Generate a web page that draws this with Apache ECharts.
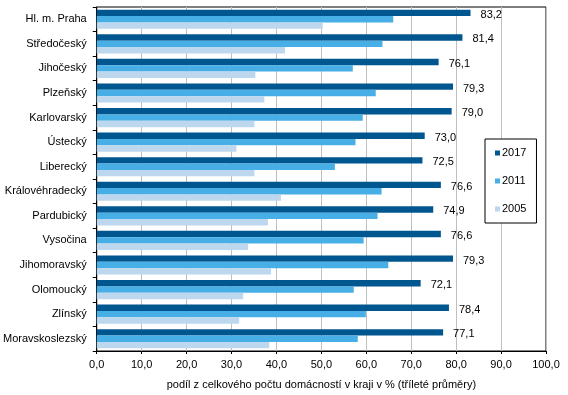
<!DOCTYPE html>
<html><head><meta charset="utf-8">
<script src="https://cdn.jsdelivr.net/npm/echarts@6/dist/echarts.min.js"></script>
<style>html,body{margin:0;padding:0;background:#fff}#c{width:568px;height:395px}</style>
</head><body><div id="c"></div>
<script>
const categories = ["Hl. m. Praha","Středočeský","Jihočeský","Plzeňský","Karlovarský","Ústecký","Liberecký","Královéhradecký","Pardubický","Vysočina","Jihomoravský","Olomoucký","Zlínský","Moravskoslezský"];
const v2017 = [83.2,81.4,76.1,79.3,79.0,73.0,72.5,76.6,74.9,76.6,79.3,72.1,78.4,77.1];
const v2011 = [66.0,63.6,57.0,62.1,59.2,57.6,53.0,63.4,62.5,59.4,64.9,57.2,59.9,58.1];
const v2005 = [50.3,41.9,35.3,37.3,35.1,31.1,35.1,41.0,38.1,33.7,38.8,32.6,31.7,38.4];
const seriesNames = ["2017","2011","2005"];
const xTitle = "podíl z celkového počtu domácností v kraji v % (tříleté průměry)";

const FONT = "Liberation Sans, Arial, sans-serif";
const fmt = v => v.toFixed(1).replace('.', ',');
const chart = echarts.init(document.getElementById('c'), null, {renderer:'canvas'});
chart.setOption({
  animation:false,
  textStyle:{fontFamily:FONT},
  grid:{left:95,right:22,top:7,bottom:41,show:true,borderColor:'#000',borderWidth:1,backgroundColor:'transparent'},
  legend:{
    orient:'vertical', left:485, top:139,
    data:seriesNames,
    icon:'rect', itemWidth:5, itemHeight:5, itemGap:16,
    padding:[8,10,8,10],
    backgroundColor:'#fff', borderColor:'#000', borderWidth:1,
    textStyle:{fontFamily:FONT,fontSize:11,color:'#000',lineHeight:12,padding:[0,0,0,-3]}
  },
  xAxis:{
    type:'value', min:0, max:100, interval:10,
    name:xTitle, nameLocation:'middle', nameGap:28,
    nameTextStyle:{fontFamily:FONT,fontSize:11,color:'#000'},
    axisLine:{show:true,lineStyle:{color:'#000',width:1}},
    axisTick:{show:true,length:3,lineStyle:{color:'#000'}},
    axisLabel:{fontFamily:FONT,fontSize:11,color:'#000',margin:8,formatter:v=>fmt(v)},
    splitLine:{show:true,lineStyle:{color:'#bfbfbf',width:1}}
  },
  yAxis:{
    type:'category', data:categories, inverse:true,
    axisLine:{show:true,lineStyle:{color:'#000',width:1}},
    axisTick:{show:true,length:4,lineStyle:{color:'#000'}},
    axisLabel:{fontFamily:FONT,fontSize:11,color:'#000',margin:10},
    splitLine:{show:false}
  },
  series:[
    {name:seriesNames[0],type:'bar',data:v2017,barGap:'0%',barCategoryGap:'22%',
     itemStyle:{color:'#00568f'},
     label:{show:true,position:'right',distance:10,offset:[0,2],fontFamily:FONT,fontSize:11,color:'#000',formatter:p=>fmt(p.value)}},
    {name:seriesNames[1],type:'bar',data:v2011,barGap:'0%',barCategoryGap:'22%',itemStyle:{color:'#47aee6'}},
    {name:seriesNames[2],type:'bar',data:v2005,barGap:'0%',barCategoryGap:'22%',itemStyle:{color:'#bdd7ee'}}
  ]
});
</script></body></html>
